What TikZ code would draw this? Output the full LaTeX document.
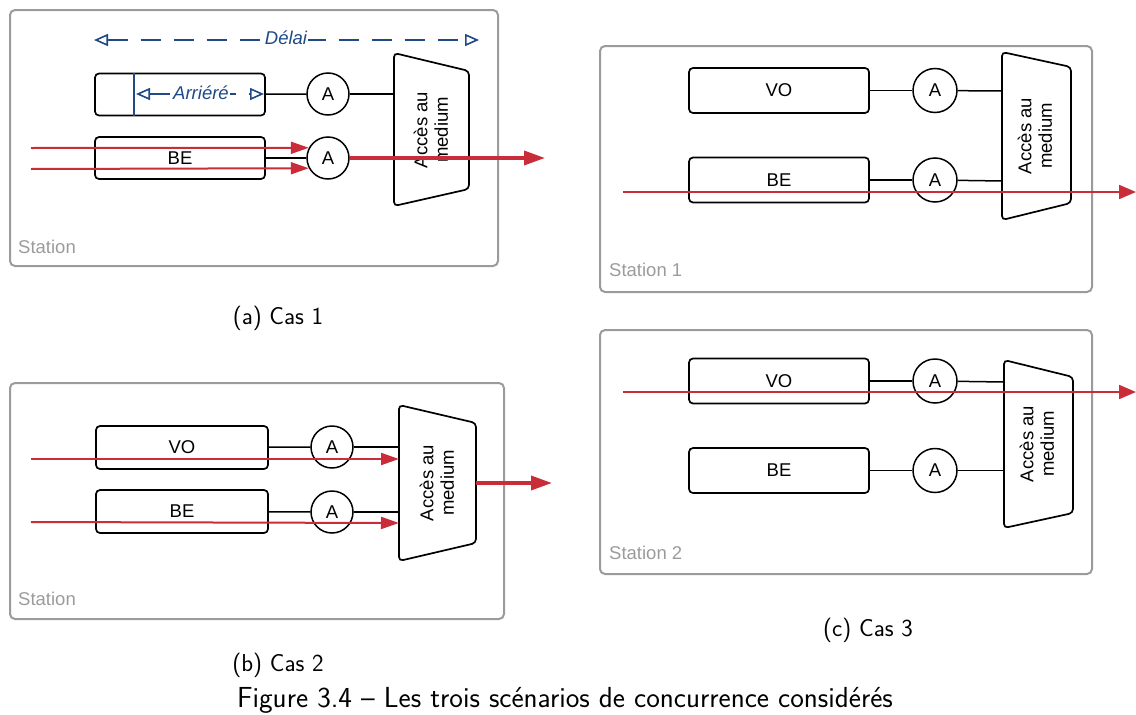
\documentclass[tikz,border=0pt]{standalone}
\usepackage{fontspec}
\newfontfamily\diagfont{Liberation Sans}
\usetikzlibrary{arrows.meta}
\definecolor{rd}{HTML}{C92D39}
\definecolor{bl}{HTML}{1F4A86}
\definecolor{gr}{HTML}{9B9B9B}
\begin{document}
\begin{tikzpicture}[x=1pt,y=-1pt,
  every node/.style={font=\diagfont\fontsize{18.5}{20.5}\selectfont},
  station/.style={draw=gr, line width=2pt, rounded corners=5pt},
  stlabel/.style={text=gr, anchor=west, inner sep=0pt},
  qbox/.style={draw, line width=1.7pt, rounded corners=4pt, minimum width=170pt, minimum height=42pt, inner sep=0pt},
  qboxc/.style={qbox, minimum width=180pt, minimum height=45pt},
  arb/.style={draw, circle, line width=1.5pt, minimum size=42pt, inner sep=0pt},
  arbc/.style={arb, minimum size=44pt},
  trap/.style={draw, line width=1.7pt, rounded corners=4pt},
  acc/.style={rotate=90, align=center, inner sep=0pt},
  link/.style={line width=1.5pt},
  flow/.style={draw=rd, line width=2pt, -{Triangle[length=18pt,width=12pt]}},
  outflow/.style={draw=rd, line width=3.5pt, -{Triangle[length=21pt,width=14pt]}},
  dim/.style={draw=bl, line width=1.6pt, dash pattern=on 20pt off 13pt,
     {Triangle[open,length=14pt,width=12pt]}-{Triangle[open,length=14pt,width=12pt]}},
  dimtxt/.style={text=bl, fill=white, inner sep=1pt, font=\diagfont\itshape\fontsize{18.5}{20.5}\selectfont},
  subcap/.style={font=\sffamily\fontsize{24.5}{29}\selectfont},
  maincap/.style={font=\sffamily\fontsize{29}{34}\selectfont}
]
\useasboundingbox (0,0) rectangle (1136,715);

%% ---------------- (a) Cas 1 ----------------
\draw[station] (10,10) rectangle (498,266);
\node[stlabel] (sta) at (18,247) {Station};
\node[qbox] (qa1) at (180,94.5) {};
\node[qbox] (qa2) at (180,158) {BE};
\node[arb] (ca1) at (328,94) {A};
\node[arb] (ca2) at (328,158) {A};
\draw[trap] (394,53) -- (469,71) -- (469,189) -- (394,206) -- cycle;
\node[acc] (ma) at (431,130) {Accès au\\medium};
\coordinate (ta1) at (394,94);
\coordinate (ta2) at (394,158);
\draw[link] (qa1) -- (ca1);
\draw[link] (ca1) -- (ta1);
\draw[link] (qa2) -- (ca2);
\draw[link] (ca2) -- (ta2);
% Delai
\coordinate (dl) at (94,40);
\coordinate (dr) at (479,40);
\draw[dim] (dl) -- (dr);
\node[dimtxt] (dtxt) at (286,38) {Délai};
% Arriere
\coordinate (bt) at (134,73);
\coordinate (bb) at (134,116);
\draw[draw=bl, line width=1.6pt] (bt) -- (bb);
\coordinate (al) at (136,94);
\coordinate (ar) at (264,94);
\draw[dim] (al) -- (ar);
\node[dimtxt] (atxt) at (201,93) {Arriéré};
% flows
\coordinate (ia1) at (31,148);
\coordinate (ia2) at (31,169);
\draw[flow] (ia1) -- (ca2.152);
\draw[flow] (ia2) -- (ca2.208);
\coordinate (oa) at (545,158);
\draw[outflow] (ca2) -- (oa);
\node[subcap] (capa) at (278,318) {(a) Cas 1};

%% ---------------- (b) Cas 2 ----------------
\draw[station] (10,383) rectangle (504,619);
\node[stlabel] (stb) at (18,599) {Station};
\node[qbox, minimum width=172pt, minimum height=43pt] (qb1) at (182,447.5) {VO};
\node[qbox, minimum width=172pt, minimum height=43pt] (qb2) at (182,511.5) {BE};
\node[arb] (cb1) at (332,447) {A};
\node[arb] (cb2) at (332,512) {A};
\draw[trap] (399,405) -- (476,423) -- (476,543) -- (399,561) -- cycle;
\node[acc] (mb) at (437,483) {Accès au\\medium};
\coordinate (tb1) at (399,447);
\coordinate (tb2) at (399,512);
\draw[link] (qb1) -- (cb1);
\draw[link] (cb1) -- (tb1);
\draw[link] (qb2) -- (cb2);
\draw[link] (cb2) -- (tb2);
\coordinate (ib1) at (31,459);
\coordinate (eb1) at (399,459);
\coordinate (ib2) at (31,522);
\coordinate (eb2) at (399,523);
\draw[flow] (ib1) -- (eb1);
\draw[flow] (ib2) -- (eb2);
\coordinate (sb) at (476,483);
\coordinate (ob) at (552,483);
\draw[outflow] (sb) -- (ob);
\node[subcap] (capb) at (278,665) {(b) Cas 2};

%% ---------------- (c) Cas 3 : Station 1 ----------------
\draw[station] (600,46) rectangle (1092,292);
\node[stlabel] (stc1) at (609,270) {Station 1};
\node[qboxc] (qc1) at (779,90.5) {VO};
\node[qboxc] (qc2) at (779,180) {BE};
\node[arbc] (cc1) at (935,90.5) {A};
\node[arbc] (cc2) at (935,180) {A};
\draw[trap] (1002,52) -- (1071,67) -- (1071,203) -- (1002,220) -- cycle;
\node[acc] (mc1) at (1035,136) {Accès au\\medium};
\coordinate (tc1) at (1002,91);
\coordinate (tc2) at (1002,181);
\draw[link] (qc1) -- (cc1);
\draw[link] (cc1) -- (tc1);
\draw[link] (qc2) -- (cc2);
\draw[link] (cc2) -- (tc2);
\coordinate (ic1) at (623,192);
\coordinate (oc1) at (1136,192);
\draw[flow, -{Triangle[length=17pt,width=14pt]}] (ic1) -- (oc1);

%% ---------------- (c) Cas 3 : Station 2 ----------------
\draw[station] (600,330) rectangle (1092,574);
\node[stlabel] (stc2) at (609,553) {Station 2};
\node[qboxc] (qd1) at (779,381) {VO};
\node[qboxc] (qd2) at (779,470.5) {BE};
\node[arbc] (cd1) at (935,381) {A};
\node[arbc] (cd2) at (935,470.5) {A};
\draw[trap] (1004,360) -- (1073,377) -- (1073,513) -- (1004,528) -- cycle;
\node[acc] (md) at (1037,444) {Accès au\\medium};
\coordinate (td1) at (1004,382);
\coordinate (td2) at (1004,470.5);
\draw[link] (qd1) -- (cd1);
\draw[link] (cd1) -- (td1);
\draw[link] (qd2) -- (cd2);
\draw[link] (cd2) -- (td2);
\coordinate (id1) at (623,392);
\coordinate (od1) at (1136,392);
\draw[flow, -{Triangle[length=17pt,width=14pt]}] (id1) -- (od1);
\node[subcap] (capc) at (868,630) {(c) Cas 3};

%% ---------------- main caption ----------------
\node[maincap] (cap) at (565,700) {Figure 3.4 – Les trois scénarios de concurrence considérés};
\end{tikzpicture}
\end{document}
